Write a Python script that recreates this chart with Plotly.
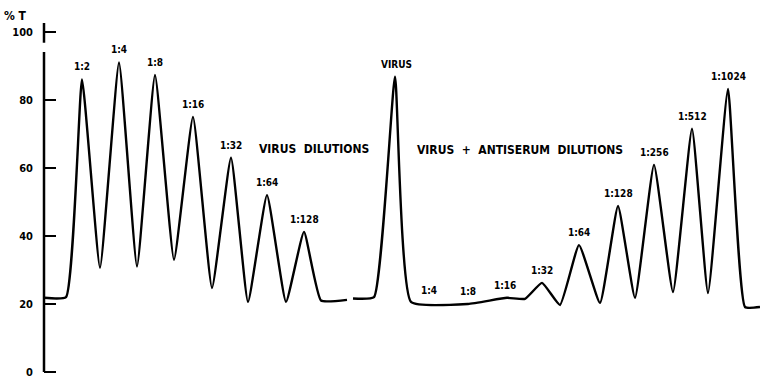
import plotly.graph_objects as go

# Chart trace (recording position, % transmittance)
seg1_x = [44, 66, 82, 100, 119, 137, 155, 174, 193, 212, 231, 248, 267, 286, 304, 321, 347]
seg1_y = [21.8, 22.0, 86.0, 30.6, 91.0, 31.0, 87.3, 33.0, 75.0, 24.7, 63.0, 20.6, 52.0, 20.6, 41.2, 21.0, 21.2]
seg2_x = [353, 374, 395, 411, 468, 507, 525, 542, 560, 579, 600, 618, 635, 654, 673, 692, 708, 728, 745, 760]
seg2_y = [21.6, 22.0, 86.8, 20.6, 20.0, 21.8, 21.5, 26.2, 19.7, 37.3, 20.3, 48.8, 21.8, 60.9, 23.5, 71.5, 23.2, 83.2, 19.1, 19.1]

# Labels
label_text = ["1:2", "1:4", "1:8", "1:16", "1:32", "1:64", "1:128", "VIRUS",
              "1:4", "1:8", "1:16", "1:32", "1:64", "1:128", "1:256", "1:512", "1:1024"]
label_x = [82, 119, 155, 193, 231, 267, 304, 396, 429, 468, 505, 542, 579, 618, 654, 692, 728]
label_y = [86.0, 91.0, 87.3, 75.0, 63.0, 52.0, 41.2, 86.8, 20.4, 20.0, 21.6, 26.2, 37.3, 48.8, 60.9, 71.5, 83.2]

group_text = ["VIRUS  DILUTIONS", "VIRUS  +  ANTISERUM  DILUTIONS"]
group_x = [314, 520]
group_y = [65.6, 65.3]

y_ticks = [0, 20, 40, 60, 80, 100]

FONT = "DejaVu Sans Condensed, Liberation Sans Narrow, sans-serif"

x_all = seg1_x + [None] + seg2_x
y_all = seg1_y + [None] + seg2_y

fig = go.Figure()
fig.add_trace(go.Scatter(
    x=x_all, y=y_all, mode="lines",
    line=dict(color="black", width=2.4, shape="spline", smoothing=0.4),
    connectgaps=False, hoverinfo="skip", showlegend=False,
))

for t, x, y in zip(label_text, label_x, label_y):
    fig.add_annotation(x=x, y=y, text="<b>" + t + "</b>", showarrow=False,
                       xanchor="center", yanchor="bottom", yshift=5,
                       font=dict(family=FONT, size=10, color="black"))
for t, x, y in zip(group_text, group_x, group_y):
    fig.add_annotation(x=x, y=y, text="<b>" + t + "</b>", showarrow=False,
                       xanchor="center", yanchor="middle",
                       font=dict(family=FONT, size=12, color="black"))

fig.add_annotation(xref="paper", yref="paper", x=-0.058, y=1.02,
                   text="<b>% T</b>", showarrow=False, xanchor="left", yanchor="middle",
                   font=dict(family=FONT, size=12, color="black"))

# axis line with a small break near the top
fig.add_shape(type="line", xref="x domain", yref="y", x0=0, x1=0, y0=0, y1=94.1,
              line=dict(color="black", width=2.5))
fig.add_shape(type="line", xref="x domain", yref="y", x0=0, x1=0, y0=96.8, y1=102.6,
              line=dict(color="black", width=2.5))

fig.update_layout(
    width=760, height=378,
    margin=dict(l=44, r=0, t=23, b=4, autoexpand=False),
    paper_bgcolor="white", plot_bgcolor="white",
    xaxis=dict(range=[44, 760], visible=False, fixedrange=True, automargin=False),
    yaxis=dict(range=[-0.6, 102.6], tickvals=y_ticks,
               ticktext=["<b>%d</b>" % v for v in y_ticks],
               ticks="inside", ticklen=12, tickwidth=2, tickcolor="black",
               showline=False, showgrid=False, zeroline=False, automargin=False,
               ticklabelstandoff=10, ticklabeloverflow="allow",
               tickfont=dict(family=FONT, size=11, color="black")),
)

fig.write_html("out.html", config={"displayModeBar": False},
               post_script="document.body.style.margin='0px';document.body.style.overflow='hidden';")
